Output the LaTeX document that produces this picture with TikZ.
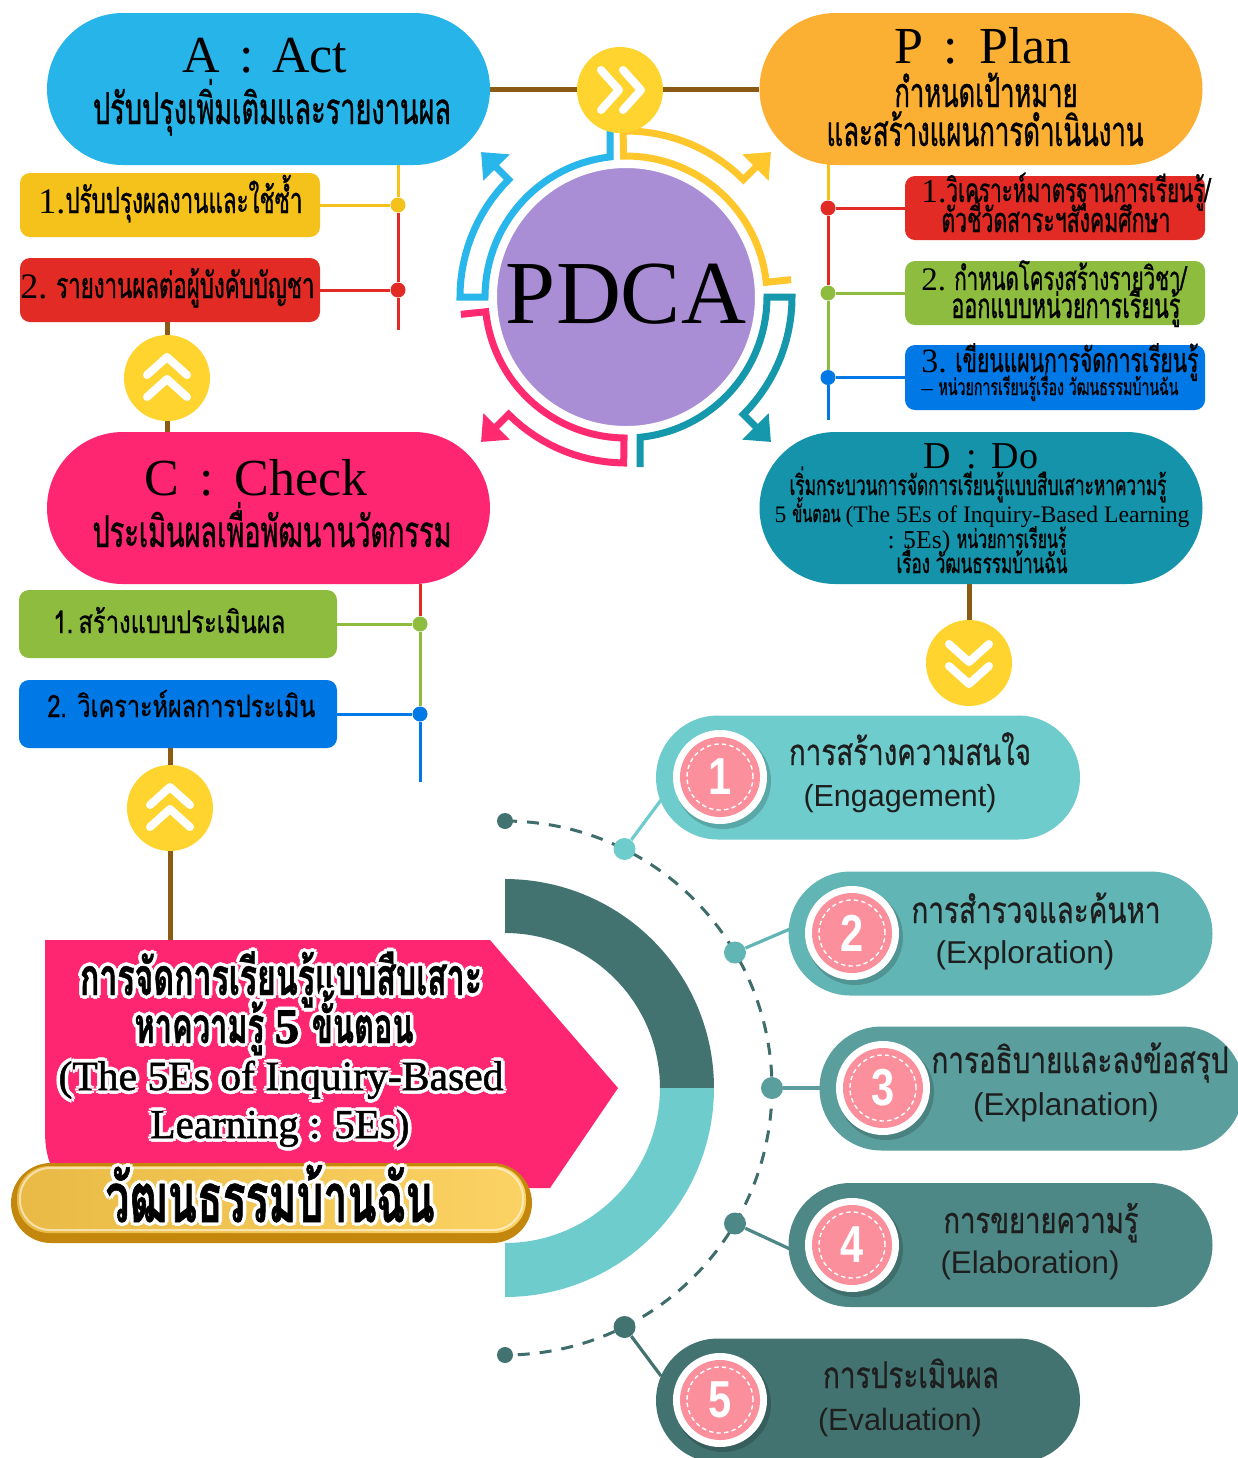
\documentclass[tikz,border=0pt]{standalone}
\usepackage{graphicx}
\usepackage{fontspec}
\setmainfont{Liberation Serif}
\newfontfamily\thC[Script=Thai,FakeStretch=0.62,FakeBold=0.8]{Loma}
\newfontfamily\thS[Script=Thai,FakeStretch=0.76,FakeBold=0.6]{Loma}
\newfontfamily\serB[FakeBold=1.2]{Liberation Serif}
\newfontfamily\lsans{Liberation Sans}
\newfontfamily\numf[FakeStretch=0.8]{Liberation Sans}
\usetikzlibrary{shapes.misc,arrows.meta,calc}
\pgfdeclarelayer{bg}
\pgfsetlayers{bg,main}

\definecolor{actblue}{HTML}{27B4E9}
\definecolor{planor}{HTML}{FBB034}
\definecolor{chkpink}{HTML}{FE2670}
\definecolor{doteal}{HTML}{1493AA}
\definecolor{purp}{HTML}{A98ED6}
\definecolor{brownl}{HTML}{8B5A14}
\definecolor{chevy}{HTML}{FFD42E}
\definecolor{boxy}{HTML}{F5C21B}
\definecolor{boxr}{HTML}{E22B24}
\definecolor{boxg}{HTML}{8DBC3F}
\definecolor{boxb}{HTML}{0078E6}
\definecolor{ringy}{HTML}{FFC72C}
\definecolor{ringb}{HTML}{29B6EA}
\definecolor{ringt}{HTML}{1597AC}
\definecolor{ringp}{HTML}{FF2A70}
\definecolor{ecA}{HTML}{6FCCCD}
\definecolor{ecB}{HTML}{62B5B5}
\definecolor{ecC}{HTML}{5A9F9E}
\definecolor{ecD}{HTML}{4E8886}
\definecolor{ecE}{HTML}{437371}
\definecolor{dashc}{HTML}{3F6D6C}
\definecolor{numpink}{HTML}{FB8F9C}
\definecolor{goldl}{HTML}{E9BA45}
\definecolor{goldr}{HTML}{FBD264}
\definecolor{goldrim}{HTML}{C4870D}
\definecolor{etext}{HTML}{1E1E1E}

\newcommand\fw[2]{\resizebox{#1pt}{!}{\fontsize{20}{24}\selectfont #2}}
\newcommand\otext[4]{%
  \foreach \oa in {0,45,...,315}{%
    \node[txt,text=white] (#1-\oa) at ($(#2)+(\oa:1.8pt)$) {\fw{#3}{#4}};}%
  \node[txt] (#1) at (#2) {\fw{#3}{#4}};}
\newcommand\numc[3]{%
  \fill[black, opacity=.18] ($(#2)+(3,4)$) circle[radius=24pt];
  \node[ndisc] (#1) at (#2) {};
  \node[npink] (#1p) at (#2) {};
  \draw[white, line width=.7pt, dash pattern=on 2.2pt off 1.6pt] (#1p.center) circle[radius=16.5pt];
  \node[ntxt] (#1t) at (#2) {#3};}

\tikzset{
  pill/.style={rounded rectangle, minimum width=221.5pt, minimum height=76pt, inner sep=0pt},
  sbox/.style={rectangle, rounded corners=5pt, inner sep=0pt, minimum width=150pt, minimum height=32pt},
  cbox/.style={sbox, minimum width=159pt, minimum height=34pt},
  conn/.style={line width=1.5pt},
  jdot/.style={circle, inner sep=0pt, minimum size=7.5pt},
  brownline/.style={draw=brownl, line width=2.5pt},
  chevc/.style={circle, fill=chevy, minimum size=43pt, inner sep=0pt},
  chevl/.style={draw=white, line width=4pt, line cap=round, line join=round},
  txt/.style={inner sep=0pt, anchor=base},
  txtw/.style={inner sep=0pt, anchor=base west},
  ttl/.style={txt, font=\fontsize{26}{28}\selectfont},
  ringl/.style={line width=3.5pt, -{Triangle[width=18pt,length=11pt]}},
  epill/.style={rounded rectangle, minimum width=212pt, minimum height=62pt, inner sep=0pt},
  edot/.style={circle, inner sep=0pt, minimum size=11pt},
  eline/.style={line width=1.6pt},
  ndisc/.style={circle, fill=white, minimum size=47pt, inner sep=0pt},
  npink/.style={circle, fill=numpink, minimum size=40pt, inner sep=0pt},
  ntxt/.style={text=white, font=\numf\bfseries\fontsize{26}{26}\selectfont, inner sep=0pt},
  etxt/.style={txt, text=etext}
}

\begin{document}
\begin{tikzpicture}[x=0.5pt,y=-0.5pt]
\useasboundingbox (0,0) rectangle (1238,1458);

% ---------- PDCA pills ----------
\node[pill, fill=actblue] (A) at (268.5,89) {};
\node[pill, fill=planor] (P) at (981,89) {};
\node[pill, fill=chkpink] (C) at (268.5,508) {};
\node[pill, fill=doteal] (D) at (981,508) {};

% sub boxes
\node[sbox, fill=boxy] (a1) at (170,205) {};
\node[sbox, fill=boxr] (a2) at (170,290) {};
\node[sbox, fill=boxr] (p1) at (1055,208) {};
\node[sbox, fill=boxg] (p2) at (1055,293) {};
\node[sbox, fill=boxb, minimum height=32.5pt] (p3) at (1055,377.5) {};
\node[cbox, fill=boxg] (c1) at (178,624) {};
\node[cbox, fill=boxb] (c2) at (178,714) {};

% junction dots
\node[jdot, fill=boxy] (ad1) at (398,205) {};
\node[jdot, fill=boxr] (ad2) at (398,290) {};
\coordinate (aend) at (398,330);
\node[jdot, fill=boxr] (pd1) at (828,208) {};
\node[jdot, fill=boxg] (pd2) at (828,293) {};
\node[jdot, fill=boxb] (pd3) at (828,377.5) {};
\coordinate (pend) at (828,420);
\node[jdot, fill=boxg] (cd1) at (420,624) {};
\node[jdot, fill=boxb] (cd2) at (420,714) {};
\coordinate (cend) at (420,782);

% chevron circles
\node[chevc] (cR) at (620,90) {};
\node[chevc] (cU1) at (167,378) {};
\node[chevc] (cU2) at (170,808) {};
\node[chevc] (cD) at (969,663) {};
\coordinate (pinktop) at (170,940);
\draw[chevl] ($(cR)+(-19,-20)$) -- ++(18,20) -- ++(-18,20);
\draw[chevl] ($(cR)+(3,-20)$) -- ++(18,20) -- ++(-18,20);
\foreach \n in {cU1,cU2}{
  \draw[chevl] ($(\n)+(-20,-3)$) -- ++(20,-18) -- ++(20,18);
  \draw[chevl] ($(\n)+(-20,19)$) -- ++(20,-18) -- ++(20,18);
}
\draw[chevl] ($(cD)+(-20,-19)$) -- ++(20,18) -- ++(20,-18);
\draw[chevl] ($(cD)+(-20,3)$) -- ++(20,18) -- ++(20,-18);

% PDCA circle
\node[circle, fill=purp, draw=white, line width=2pt, minimum size=131pt, inner sep=0pt] (pdca) at (626,297) {};
\node[txt, font=\fontsize{45}{45}\selectfont] (pdcat) at (626,323) {PDCA};

% ---------- background connectors ----------
\begin{pgfonlayer}{bg}
\fill[white] (0,0) rectangle (1238,1458);
\draw[brownline] (A.east) -- (P.west);
\draw[brownline] (a2.south -| cU1) -- (cU1 |- C.north);
\draw[brownline] (c2.south -| cU2) -- (cU2 |- pinktop);
\draw[brownline] (D.south -| cD) -- (cD);

\draw[conn, boxy] (ad1 |- A.south) -- (ad1);
\draw[conn, boxr] (ad1) -- (ad2) -- (aend);
\draw[conn, boxy] (a1) -- (ad1);
\draw[conn, boxr] (a2) -- (ad2);

\draw[conn, boxy] ($(pd1 |- P.south)+(0,-10)$) -- (pd1);
\draw[conn, boxr] (pd1) -- (pd2);
\draw[conn, boxg] (pd2) -- (pd3);
\draw[conn, boxb] (pd3) -- (pend);
\draw[conn, boxr] (p1) -- (pd1);
\draw[conn, boxg] (p2) -- (pd2);
\draw[conn, boxb] (p3) -- (pd3);

\draw[conn, boxr] (cd1 |- C.south) -- (cd1);
\draw[conn, boxg] (cd1) -- (cd2);
\draw[conn, boxb] (cd2) -- (cend);
\draw[conn, boxg] (c1) -- (cd1);
\draw[conn, boxb] (c2) -- (cd2);

% ring arrows around PDCA
\draw[ringl, ringb] (610,120) -- plot[domain=263.5:180, samples=30] ({626+141*cos(\x)},{297+141*sin(\x)})
  -- plot[domain=180:225, samples=16] ({626+166*cos(\x)},{297+166*sin(\x)})
  -- ({626+205*cos(225)},{297+205*sin(225)});
\draw[ringl, ringy] ({626+166*cos(-6)},{297+166*sin(-6)})
  -- plot[domain=-6:-91, samples=30] ({626+141*cos(\x)},{297+141*sin(\x)})
  -- plot[domain=-91:-45, samples=16] ({626+166*cos(\x)},{297+166*sin(\x)})
  -- ({626+205*cos(-45)},{297+205*sin(-45)});
\draw[ringl, ringt] (640,467) -- plot[domain=84.3:0, samples=30] ({626+141*cos(\x)},{297+141*sin(\x)})
  -- plot[domain=0:45, samples=16] ({626+166*cos(\x)},{297+166*sin(\x)})
  -- ({626+205*cos(45)},{297+205*sin(45)});
\draw[ringl, ringp] ({626+166*cos(174)},{297+166*sin(174)})
  -- plot[domain=174:90.8, samples=30] ({626+141*cos(\x)},{297+141*sin(\x)})
  -- plot[domain=90.8:135, samples=16] ({626+166*cos(\x)},{297+166*sin(\x)})
  -- ({626+205*cos(135)},{297+205*sin(135)});

% dashed arc of 5Es
\draw[dashc, line width=1.5pt, dash pattern=on 6pt off 5pt] plot[domain=-90:90, samples=120] ({505+267*cos(\x)},{1088+267*sin(\x)});
\end{pgfonlayer}

% ---------- texts in PDCA part ----------
\node[ttl] (At) at (265,72) {\spaceskip=.36em A : Act};
\node[txt] (Ath) at (272,124) {\fw{179}{\thC ปรับปรุงเพิ่มเติมและรายงานผล}};
\node[ttl] (Pt) at (983,63) {\spaceskip=.4em P : Plan};
\node[txt] (Pth1) at (986,107) {\fw{91.5}{\thC กำหนดเป้าหมาย}};
\node[txt] (Pth2) at (985,146) {\fw{158.5}{\thC และสร้างแผนการดำเนินงาน}};
\node[ttl] (Ct) at (256,495) {\spaceskip=.4em C : Check};
\node[txt] (Cth) at (272,547) {\fw{179.5}{\thC ประเมินผลเพื่อพัฒนานวัตกรรม}};
\node[txt, font=\fontsize{19}{20}\selectfont] (Dt) at (981,468) {\spaceskip=.4em D : Do};
\node[txt] (Dl1) at (978,495) {\fw{188.5}{\thC เริ่มกระบวนการจัดการเรียนรู้แบบสืบเสาะหาความรู้}};
\node[txt] (Dl2) at (982,522) {\fw{207.5}{\rmfamily 5 \thC ขั้นตอน \rmfamily (The 5Es of Inquiry-Based Learning}};
\node[txt] (Dl3) at (977,548) {\fw{89.5}{\rmfamily : 5Es) \thC หน่วยการเรียนรู้}};
\node[txt] (Dl4) at (982,573) {\fw{85.5}{\thC เรื่อง วัฒนธรรมบ้านฉัน}};

\node[txtw] (a1t) at (38,213) {\fw{132}{\rmfamily 1.\thC ปรับปรุงผลงานและใช้ซ้ำ}};
\node[txtw] (a2t) at (20,298) {\fw{147}{\rmfamily 2.\ \thC รายงานผลต่อผู้บังคับบัญชา}};
\node[txtw] (p1t1) at (921,202) {\fw{144.5}{\rmfamily 1.\thC วิเคราะห์มาตรฐานการเรียนรู้/}};
\node[txtw] (p1t2) at (941,232) {\fw{114.5}{\thC ตัวชี้วัดสาระฯสังคมศึกษา}};
\node[txtw] (p2t1) at (921,290) {\fw{132.5}{\rmfamily 2.\ \thC กำหนดโครงสร้างรายวิชา/}};
\node[txtw] (p2t2) at (951,318) {\fw{114.5}{\thC ออกแบบหน่วยการเรียนรู้}};
\node[txtw] (p3t1) at (921,372) {\fw{138.5}{\rmfamily 3.\ \thC เขียนแผนการจัดการเรียนรู้}};
\node[txtw] (p3t2) at (921,395) {\fw{128.5}{\rmfamily -- \thC หน่วยการเรียนรู้เรื่อง วัฒนธรรมบ้านฉัน}};
\node[txtw] (c1t) at (53,633) {\fw{116}{\thS 1.\,สร้างแบบประเมินผล}};
\node[txtw] (c2t) at (47,717) {\fw{134}{\thS 2. วิเคราะห์ผลการประเมิน}};

% ---------- 5Es part ----------
\fill[ecE] plot[domain=-90:0, samples=60] ({505+209*cos(\x)},{1088+209*sin(\x)})
  -- plot[domain=0:-90, samples=60] ({505+155*cos(\x)},{1088+155*sin(\x)}) -- cycle;
\fill[ecA] plot[domain=0:90, samples=60] ({505+209*cos(\x)},{1088+209*sin(\x)})
  -- plot[domain=90:0, samples=60] ({505+155*cos(\x)},{1088+155*sin(\x)}) -- cycle;

\fill[chkpink] (45,1130) -- (45,940) -- (490,940) -- (618,1088) -- (550,1188) -- (80,1188)
  .. controls (55,1180) and (45,1165) .. cycle;

\node[rounded rectangle, fill=goldrim, minimum width=260.5pt, minimum height=40pt, inner sep=0pt] (gbar) at (271.5,1203) {};
\shade[left color=goldl, right color=goldr, rounded corners=16pt] (17,1166) rectangle (526,1233);
\draw[white, opacity=.55, line width=1pt, rounded corners=15pt] (20,1168) rectangle (523,1230);

\otext{pk1}{281,995}{201}{\thC\bfseries การจัดการเรียนรู้แบบสืบเสาะ}
\otext{pk2}{274,1043}{139.5}{\thC\bfseries หาความรู้ \serB 5 \thC\bfseries ขั้นตอน}
\otext{pk3}{281,1090}{222.5}{\serB (The 5Es of Inquiry-Based}
\otext{pk4}{280,1138}{129.5}{\serB Learning : 5Es)}
\otext{gt}{270,1222}{164.5}{\thC\bfseries วัฒนธรรมบ้านฉัน}

% 5E pills
\node[epill, fill=ecA] (b1) at (868,777.5) {};
\node[epill, fill=ecB] (b2) at (1000.5,933.5) {};
\node[epill, fill=ecC] (b3) at (1031.5,1088.5) {};
\node[epill, fill=ecD] (b4) at (1000.5,1245) {};
\node[epill, fill=ecE] (b5) at (868,1400.5) {};

% dots on dashed arc
\node[edot, fill=ecA] (k1) at (624.5,849) {};
\node[edot, fill=ecB] (k2) at (735,952.5) {};
\node[edot, fill=ecC] (k3) at (772,1088) {};
\node[edot, fill=ecD] (k4) at (735,1223.5) {};
\node[edot, fill=ecE] (k5) at (624.5,1327) {};
\node[circle, fill=ecE, inner sep=0pt, minimum size=8pt] (kt) at (505,821) {};
\node[circle, fill=ecE, inner sep=0pt, minimum size=8pt] (kb) at (505,1355) {};
\coordinate (e1) at (661,800);
\coordinate (e2) at (790,929);
\coordinate (e3) at (822,1088);
\coordinate (e4) at (790,1249);
\coordinate (e5) at (661,1376);
\begin{pgfonlayer}{bg}
\draw[eline, ecA] (k1) -- (e1);
\draw[eline, ecB] (k2) -- (e2);
\draw[eline, ecC] (k3) -- (e3);
\draw[eline, ecD] (k4) -- (e4);
\draw[eline, ecE] (k5) -- (e5);
\end{pgfonlayer}

\numc{n1}{720,777}{1}
\numc{n2}{852,933}{2}
\numc{n3}{883,1088}{3}
\numc{n4}{852,1245}{4}
\numc{n5}{720,1400}{5}

\node[etxt] (t1a) at (910,765) {\fw{121}{\thS การสร้างความสนใจ}};
\node[etxt] (t1b) at (900,806) {\fw{96.5}{\lsans (Engagement)}};
\node[etxt] (t2a) at (1036,923) {\fw{124.5}{\thS การสำรวจและค้นหา}};
\node[etxt] (t2b) at (1025,963) {\fw{89.5}{\lsans (Exploration)}};
\node[etxt] (t3a) at (1080,1073) {\fw{148.5}{\thS การอธิบายและลงข้อสรุป}};
\node[etxt] (t3b) at (1066,1115) {\fw{93}{\lsans (Explanation)}};
\node[etxt] (t4a) at (1041,1233) {\fw{97.5}{\thS การขยายความรู้}};
\node[etxt] (t4b) at (1030,1273) {\fw{89.5}{\lsans (Elaboration)}};
\node[etxt] (t5a) at (911,1388) {\fw{88}{\thS การประเมินผล}};
\node[etxt] (t5b) at (900,1430) {\fw{82}{\lsans (Evaluation)}};
\end{tikzpicture}
\end{document}
